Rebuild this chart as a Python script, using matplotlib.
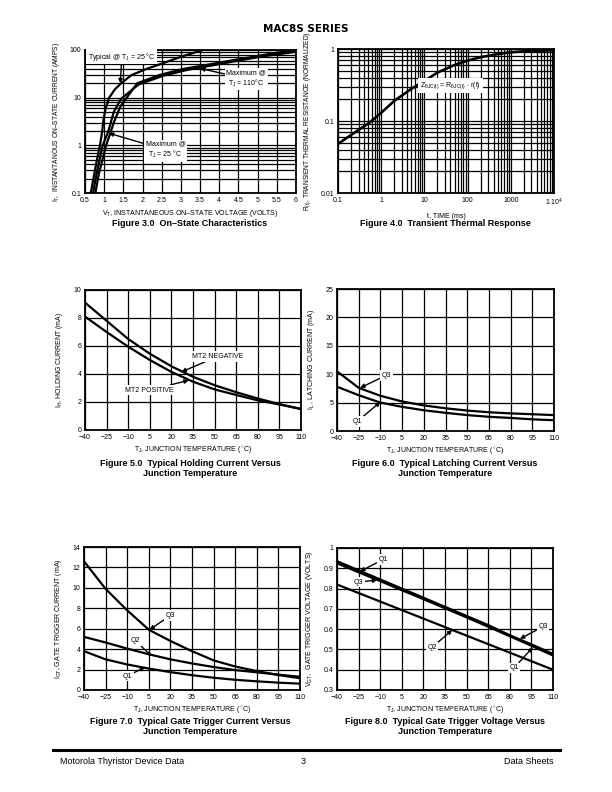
import matplotlib
matplotlib.use("Agg")
import matplotlib.pyplot as plt
from matplotlib.lines import Line2D

plt.rcParams['font.family'] = ['Liberation Sans', 'DejaVu Sans']
plt.rcParams['mathtext.fontset'] = 'custom'
plt.rcParams['mathtext.rm'] = 'Liberation Sans'
plt.rcParams['mathtext.it'] = 'Liberation Sans'

# ---------------- DATA ----------------
# Figure 3.0 On-state characteristics
vt_typ = [0.65, 0.72, 0.80, 0.89, 0.95, 0.98, 1.04, 1.13, 1.28, 1.44, 1.72, 2.1, 2.45, 3.0, 3.57]
it_typ = [0.1, 0.2, 0.45, 1.0, 2.0, 3.4, 6.0, 10, 15, 20, 30, 40, 50, 72, 100]
vt_max25 = [0.71, 0.80, 0.96, 1.05, 1.11, 1.25, 1.44, 1.90, 2.55, 3.15, 3.85, 4.5, 5.2, 5.7, 6.0]
it_max25 = [0.1, 0.25, 1.0, 1.5, 2.0, 5.0, 9.5, 19, 29, 38, 48, 60, 75, 85, 92]
vt_max110 = [0.77, 0.86, 1.05, 1.15, 1.25, 1.42, 1.86, 2.45, 3.05, 3.5, 4.2, 5.0, 5.6, 6.0]
it_max110 = [0.1, 0.25, 1.0, 1.7, 3.0, 6.5, 20, 30, 40, 46, 58, 75, 90, 100]
vt_ticks = [0.5, 1, 1.5, 2, 2.5, 3, 3.5, 4, 4.5, 5, 5.5, 6]
vt_ticklabels = ['0.5', '1', '1.5', '2', '2.5', '3', '3.5', '4', '4.5', '5', '5.5', '6']
it_ticks = [0.1, 1, 10, 100]
it_ticklabels = ['0.1', '1', '10', '100']

# Figure 4.0 Transient thermal response
t_ms = [0.1, 0.2, 0.5, 1, 2, 5, 10, 20, 50, 100, 200, 500, 1000, 2000, 5000, 10000]
r_t = [0.048, 0.064, 0.092, 0.13, 0.19, 0.28, 0.36, 0.47, 0.60, 0.69, 0.77, 0.85, 0.90, 0.93, 0.95, 0.96]
t_ticks = [0.1, 1, 10, 100, 1000, 10000]
t_ticklabels = ['0.1', '1', '10', '100', '1000', r'1$\cdot$10$^\mathregular{4}$']
r_ticks = [0.01, 0.1, 1]
r_ticklabels = ['0.01', '0.1', '1']

# Temperature axis shared by figures 5-8
tj = [-40, -25, -10, 5, 20, 35, 50, 65, 80, 95, 110]
tj_labels = ['\u221240', '\u221225', '\u221210', '5', '20', '35', '50', '65', '80', '95', '110']

# Figure 5.0 Holding current
ih_mt2_neg = [9.1, 7.8, 6.5, 5.45, 4.55, 3.8, 3.2, 2.7, 2.25, 1.85, 1.5]
ih_mt2_pos = [8.1, 7.0, 5.95, 5.0, 4.15, 3.45, 2.9, 2.5, 2.12, 1.82, 1.5]

# Figure 6.0 Latching current
il_q3 = [10.5, 7.6, 6.2, 5.2, 4.5, 4.0, 3.6, 3.3, 3.1, 2.95, 2.8]
il_q1 = [7.8, 6.3, 5.0, 4.25, 3.65, 3.2, 2.8, 2.5, 2.3, 2.05, 1.9]

# Figure 7.0 Gate trigger current
igt_q3 = [12.6, 9.9, 7.8, 5.9, 4.8, 3.8, 2.9, 2.3, 1.85, 1.47, 1.15]
igt_q2 = [5.2, 4.65, 4.05, 3.5, 3.0, 2.6, 2.25, 1.95, 1.73, 1.5, 1.3]
igt_q1 = [3.8, 3.0, 2.5, 2.1, 1.75, 1.45, 1.2, 1.0, 0.85, 0.72, 0.62]

# Figure 8.0 Gate trigger voltage
vgt_q1 = [0.935, 0.89, 0.845, 0.80, 0.755, 0.71, 0.665, 0.62, 0.57, 0.525, 0.478]
vgt_q3 = [0.925, 0.88, 0.837, 0.792, 0.748, 0.703, 0.658, 0.612, 0.565, 0.518, 0.47]
vgt_q2 = [0.82, 0.778, 0.736, 0.694, 0.652, 0.61, 0.568, 0.526, 0.484, 0.442, 0.40]

# ---------------- FIGURE ----------------
W, H = 612, 792
fig = plt.figure(figsize=(W / 100, H / 100), dpi=100)

FS = 5.0
LW_CURVE = 1.6
LW_GRID = 0.9
EN = '\u2013'
DEG = '\u00b0'


def axes_px(l, t, r, b):
    return fig.add_axes([l / W, 1 - b / H, (r - l) / W, (b - t) / H])


def style(ax):
    for s in ax.spines.values():
        s.set_linewidth(1.3)
        s.set_color('black')
    ax.tick_params(which='both', length=0, labelsize=FS)
    ax.tick_params(axis='x', pad=3)
    ax.tick_params(axis='y', pad=2.5)
    ax.set_axisbelow(True)


def ftext(x, y, s, **kw):
    fig.text(x / W, 1 - y / H, s, **kw)


def label(ax, s, xy, xytext, ha='center'):
    ax.annotate(s, xy=xy, xytext=xytext, fontsize=FS, ha=ha, va='center',
                bbox=dict(fc='white', ec='none', pad=1.2),
                arrowprops=dict(arrowstyle='-|>', color='black', lw=1.0,
                                mutation_scale=6, shrinkA=0, shrinkB=0))


# Header and footer
ftext(306, 29, 'MAC8S SERIES', ha='center', va='center', fontsize=7.5, fontweight='bold',
      family='DejaVu Sans')
fig.add_artist(Line2D([53 / W, 560 / W], [1 - 750 / H, 1 - 750 / H], color='black', lw=2.2))
ftext(60, 762, 'Motorola Thyristor Device Data', ha='left', va='center', fontsize=6.5)
ftext(303, 762, '3', ha='center', va='center', fontsize=6.5)
ftext(553, 762, 'Data Sheets', ha='right', va='center', fontsize=6.5)

# ---------- Figure 3.0 ----------
ax = axes_px(85, 50, 296, 193)
style(ax)
ax.set_yscale('log')
ax.set_xlim(0.5, 6)
ax.set_ylim(0.1, 100)
ax.set_xticks(vt_ticks)
ax.set_xticklabels(vt_ticklabels)
ax.set_yticks(it_ticks)
ax.set_yticklabels(it_ticklabels)
ax.yaxis.set_minor_locator(matplotlib.ticker.LogLocator(base=10, subs=range(2, 10)))
ax.yaxis.set_minor_formatter(matplotlib.ticker.NullFormatter())
ax.grid(True, which='both', color='black', lw=LW_GRID)
ax.plot(vt_typ, it_typ, color='black', lw=LW_CURVE)
ax.plot(vt_max25, it_max25, color='black', lw=LW_CURVE)
ax.plot(vt_max110, it_max110, color='black', lw=LW_CURVE)
ax.set_xlabel(r'V$_\mathregular{T}$, INSTANTANEOUS ON' + EN + 'STATE VOLTAGE (VOLTS)', fontsize=FS, labelpad=3)
ax.set_ylabel(r'I$_\mathregular{T}$,  INSTANTANOUS ON' + EN + 'STATE CURRENT (AMPS)', fontsize=4.8, labelpad=6)
label(ax, r'Typical @ T$_\mathregular{J}$ = 25 ' + DEG + 'C', xy=(1.42, 20), xytext=(0.58, 72), ha='left')
label(ax, 'Maximum @\nT$_\\mathregular{J}$ = 110' + DEG + 'C', xy=(3.5, 41), xytext=(4.7, 25))
label(ax, 'Maximum @\nT$_\\mathregular{J}$ = 25 ' + DEG + 'C', xy=(1.12, 1.8), xytext=(2.6, 0.8))
ftext(190, 224, 'Figure 3.0  On' + EN + 'State Characteristics', ha='center', va='center', fontsize=6.5, fontweight='bold')

# ---------- Figure 4.0 ----------
ax = axes_px(338, 49, 554, 193)
style(ax)
ax.set_xscale('log')
ax.set_yscale('log')
ax.set_xlim(0.1, 10000)
ax.set_ylim(0.01, 1)
ax.set_xticks(t_ticks)
ax.set_xticklabels(t_ticklabels)
ax.set_yticks(r_ticks)
ax.set_yticklabels(r_ticklabels)
for a in (ax.xaxis, ax.yaxis):
    a.set_minor_locator(matplotlib.ticker.LogLocator(base=10, subs=range(2, 10)))
    a.set_minor_formatter(matplotlib.ticker.NullFormatter())
ax.grid(True, which='both', color='black', lw=LW_GRID)
ax.plot(t_ms, r_t, color='black', lw=LW_CURVE + 0.3)
ax.text(40, 0.31, r'Z$_\mathregular{\theta JC(t)}$ = R$_\mathregular{\theta JC(t)}$ $\bullet$ r(t)', fontsize=FS,
        ha='center', va='center', bbox=dict(fc='white', ec='none', pad=1.5))
ax.set_xlabel('t, TIME (ms)', fontsize=FS, labelpad=3)
ax.set_ylabel(r'R$_\mathregular{(t)}$, TRANSIENT THERMAL RESISTANCE (NORMALIZED)', fontsize=4.8, labelpad=6)
ftext(445, 224, 'Figure 4.0  Transient Thermal Response', ha='center', va='center', fontsize=6.5, fontweight='bold')


def temp_axes(l, t, r, b):
    ax = axes_px(l, t, r, b)
    style(ax)
    ax.set_xlim(-40, 110)
    ax.set_xticks(tj)
    ax.set_xticklabels(tj_labels)
    ax.grid(True, color='black', lw=LW_GRID)
    ax.set_xlabel(r'T$_\mathregular{J}$, JUNCTION TEMPERATURE ($^\circ$C)', fontsize=FS, labelpad=2)
    return ax


# ---------- Figure 5.0 ----------
ax = temp_axes(85, 290, 301, 430)
ax.set_ylim(0, 10)
ax.set_yticks([0, 2, 4, 6, 8, 10])
ax.plot(tj, ih_mt2_neg, color='black', lw=LW_CURVE)
ax.plot(tj, ih_mt2_pos, color='black', lw=LW_CURVE)
ax.set_ylabel(r'I$_\mathregular{H}$, HOLDING CURRENT (mA)', fontsize=FS, labelpad=6)
label(ax, 'MT2 NEGATIVE', xy=(27, 4.15), xytext=(52, 5.25))
label(ax, 'MT2 POSITIVE', xy=(32, 3.55), xytext=(5, 2.85))
ftext(190, 464, 'Figure 5.0  Typical Holding Current Versus', ha='center', va='center', fontsize=6.5, fontweight='bold')
ftext(190, 474, 'Junction Temperature', ha='center', va='center', fontsize=6.5, fontweight='bold')

# ---------- Figure 6.0 ----------
ax = temp_axes(337, 289, 554, 431)
ax.set_ylim(0, 25)
ax.set_yticks([0, 5, 10, 15, 20, 25])
ax.plot(tj, il_q3, color='black', lw=LW_CURVE)
ax.plot(tj, il_q1, color='black', lw=LW_CURVE)
ax.set_ylabel(r'I$_\mathregular{L}$ , LATCHING CURRENT (mA)', fontsize=FS, labelpad=6)
label(ax, 'Q3', xy=(-24, 7.6), xytext=(-6, 9.8))
label(ax, 'Q1', xy=(-10, 5.1), xytext=(-26, 1.7))
ftext(445, 464, 'Figure 6.0  Typical Latching Current Versus', ha='center', va='center', fontsize=6.5, fontweight='bold')
ftext(445, 474, 'Junction Temperature', ha='center', va='center', fontsize=6.5, fontweight='bold')

# ---------- Figure 7.0 ----------
ax = temp_axes(84, 547, 300, 690)
ax.set_ylim(0, 14)
ax.set_yticks([0, 2, 4, 6, 8, 10, 12, 14])
ax.plot(tj, igt_q3, color='black', lw=LW_CURVE)
ax.plot(tj, igt_q2, color='black', lw=LW_CURVE)
ax.plot(tj, igt_q1, color='black', lw=LW_CURVE)
ax.set_ylabel(r'I$_\mathregular{GT}$, GATE TRIGGER CURRENT (mA)', fontsize=FS, labelpad=6)
label(ax, 'Q3', xy=(5.5, 5.9), xytext=(20, 7.3))
label(ax, 'Q2', xy=(7, 3.3), xytext=(-4, 4.8))
label(ax, 'Q1', xy=(2.5, 2.25), xytext=(-10, 1.35))
ftext(190, 721, 'Figure 7.0  Typical Gate Trigger Current Versus', ha='center', va='center', fontsize=6.5, fontweight='bold')
ftext(190, 731, 'Junction Temperature', ha='center', va='center', fontsize=6.5, fontweight='bold')

# ---------- Figure 8.0 ----------
ax = temp_axes(337, 548, 553, 690)
ax.set_ylim(0.3, 1.0)
ax.set_yticks([0.3, 0.4, 0.5, 0.6, 0.7, 0.8, 0.9, 1.0])
ax.set_yticklabels(['0.3', '0.4', '0.5', '0.6', '0.7', '0.8', '0.9', '1'])
ax.plot(tj, vgt_q1, color='black', lw=LW_CURVE)
ax.plot(tj, vgt_q3, color='black', lw=LW_CURVE)
ax.plot(tj, vgt_q2, color='black', lw=LW_CURVE)
ax.set_ylabel(r'V$_\mathregular{GT}$,  GATE TRIGGER VOLTAGE (VOLTS)', fontsize=FS, labelpad=6)
label(ax, 'Q1', xy=(-24, 0.885), xytext=(-8, 0.943))
label(ax, 'Q3', xy=(-12, 0.842), xytext=(-25, 0.832))
label(ax, 'Q3', xy=(87, 0.552), xytext=(103, 0.612))
label(ax, 'Q2', xy=(40, 0.596), xytext=(26, 0.51))
label(ax, 'Q1', xy=(96, 0.51), xytext=(83, 0.41))
ftext(445, 721, 'Figure 8.0  Typical Gate Trigger Voltage Versus', ha='center', va='center', fontsize=6.5, fontweight='bold')
ftext(445, 731, 'Junction Temperature', ha='center', va='center', fontsize=6.5, fontweight='bold')

fig.savefig('out.png', dpi=100)
